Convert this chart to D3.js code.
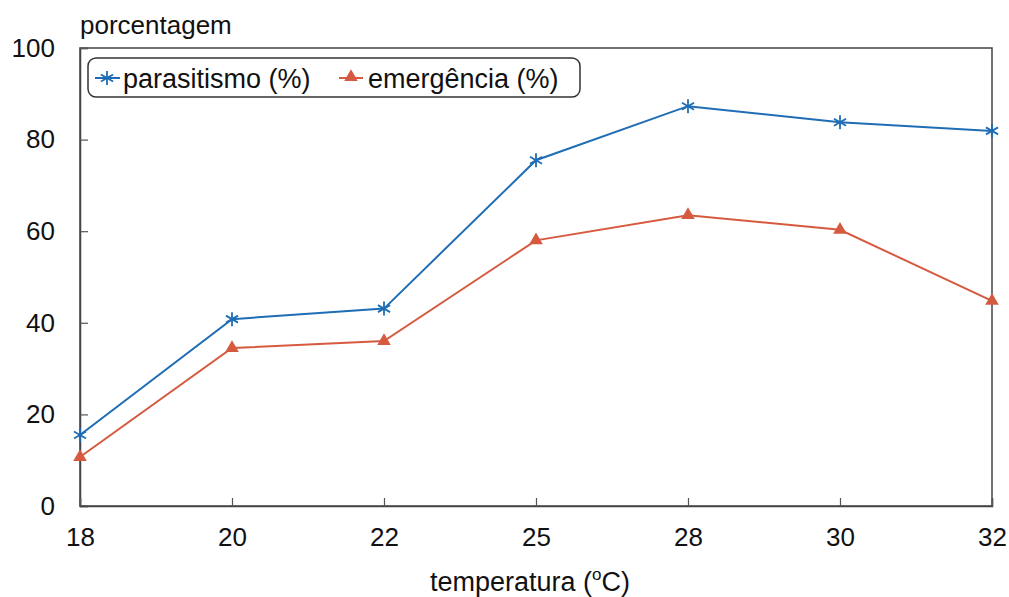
<!DOCTYPE html>
<html>
<head>
<meta charset="utf-8">
<script src="https://cdn.jsdelivr.net/npm/d3@7"></script>
<style>
  body { margin: 0; background: #fff; }
  text { font-family: "Liberation Sans", Arial, sans-serif; fill: #111; }
</style>
</head>
<body>
<div id="chart"></div>
<script>
// data
const temperatures = ["18", "20", "22", "25", "28", "30", "32"];
const parasitismo = [15.5, 40.8, 43.1, 75.5, 87.3, 83.8, 81.9];
const emergencia = [10.7, 34.5, 36.0, 58.0, 63.5, 60.3, 44.8];
const yTicks = [0, 20, 40, 60, 80, 100];

const width = 1009;
const height = 597;
const margin = { left: 80, right: 17, top: 48, bottom: 91 };

const blue = "#1f6db4";
const red = "#d65a3f";

const svg = d3.select("#chart").append("svg")
    .attr("width", width)
    .attr("height", height);

const x = d3.scalePoint()
    .domain(temperatures)
    .range([margin.left, width - margin.right]);

const y = d3.scaleLinear()
    .domain([0, 100])
    .range([height - margin.bottom, margin.top]);

// frame (top + right lines)
svg.append("rect")
    .attr("x", margin.left)
    .attr("y", margin.top)
    .attr("width", width - margin.right - margin.left)
    .attr("height", height - margin.bottom - margin.top)
    .attr("fill", "none")
    .attr("stroke", "#444")
    .attr("stroke-width", 1.5);

// y axis, ticks inside
const yAxis = svg.append("g")
    .attr("transform", `translate(${margin.left},0)`)
    .call(d3.axisLeft(y).tickValues(yTicks).tickSize(-8).tickPadding(25));
yAxis.select(".domain").attr("stroke", "#444").attr("stroke-width", 1.5);
yAxis.selectAll(".tick line").attr("stroke", "#555").attr("stroke-width", 1.2);
yAxis.selectAll(".tick text").style("font-size", "26px").attr("fill", "#111");

// x axis, ticks inside
const xAxis = svg.append("g")
    .attr("transform", `translate(0,${height - margin.bottom})`)
    .call(d3.axisBottom(x).tickSize(-8).tickPadding(22));
xAxis.select(".domain").attr("stroke", "#444").attr("stroke-width", 1.5);
xAxis.selectAll(".tick line").attr("stroke", "#555").attr("stroke-width", 1.2);
xAxis.selectAll(".tick text").style("font-size", "26px").attr("fill", "#111");

// axis titles
svg.append("text")
    .attr("x", 80)
    .attr("y", 34)
    .style("font-size", "26px")
    .text("porcentagem");

const xt = svg.append("text")
    .attr("x", 530)
    .attr("y", 591)
    .attr("text-anchor", "middle")
    .style("font-size", "27px");
xt.append("tspan").text("temperatura (");
xt.append("tspan").attr("dy", -11).style("font-size", "17px").text("o");
xt.append("tspan").attr("dy", 11).text("C)");

// series
const line = d3.line()
    .x((d, i) => x(temperatures[i]))
    .y(d => y(d));

svg.append("path")
    .datum(parasitismo)
    .attr("fill", "none")
    .attr("stroke", blue)
    .attr("stroke-width", 2)
    .attr("d", line);

svg.append("path")
    .datum(emergencia)
    .attr("fill", "none")
    .attr("stroke", red)
    .attr("stroke-width", 2)
    .attr("d", line);

function asterisk(g, cx, cy, r, color) {
    for (let k = 0; k < 3; k++) {
        const a = Math.PI / 2 + k * Math.PI / 3;
        g.append("line")
            .attr("x1", cx - r * Math.cos(a)).attr("y1", cy - r * Math.sin(a))
            .attr("x2", cx + r * Math.cos(a)).attr("y2", cy + r * Math.sin(a))
            .attr("stroke", color).attr("stroke-width", 1.8);
    }
}

const triangle = d3.symbol().type(d3.symbolTriangle).size(80);

const pMarks = svg.append("g");
parasitismo.forEach((v, i) => asterisk(pMarks, x(temperatures[i]), y(v), 7, blue));

svg.append("g")
    .selectAll("path")
    .data(emergencia)
    .enter()
    .append("path")
    .attr("transform", (d, i) => `translate(${x(temperatures[i])},${y(d)})`)
    .attr("d", triangle)
    .attr("fill", red);

// legend
const lg = svg.append("g");
lg.append("rect")
    .attr("x", 88).attr("y", 58)
    .attr("width", 492).attr("height", 39)
    .attr("rx", 8)
    .attr("fill", "#fff")
    .attr("stroke", "#333")
    .attr("stroke-width", 1.5);

lg.append("line").attr("x1", 95).attr("x2", 120).attr("y1", 78).attr("y2", 78)
    .attr("stroke", blue).attr("stroke-width", 2);
asterisk(lg, 107, 78, 7, blue);
lg.append("text").attr("x", 123).attr("y", 88).style("font-size", "27px").text("parasitismo (%)");

lg.append("line").attr("x1", 339).attr("x2", 363).attr("y1", 78).attr("y2", 78)
    .attr("stroke", red).attr("stroke-width", 2);
lg.append("path").attr("transform", "translate(351,77)").attr("d", triangle).attr("fill", red);
lg.append("text").attr("x", 368).attr("y", 88).style("font-size", "27px").text("emergência (%)");
</script>
</body>
</html>
